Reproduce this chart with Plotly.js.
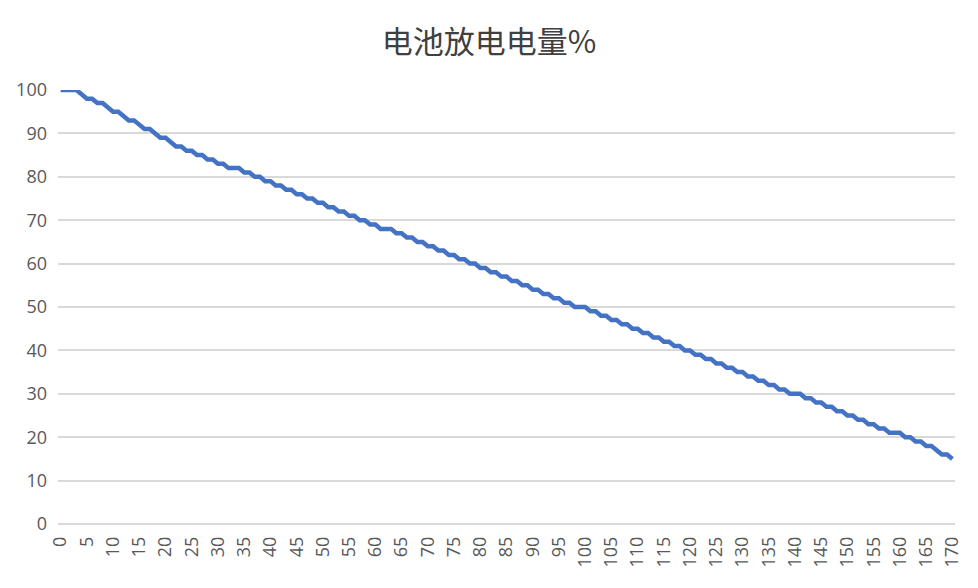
<!DOCTYPE html>
<html>
<head>
<meta charset="utf-8">
<script src="https://cdn.plot.ly/plotly-3.0.1.min.js"></script>
<style>
  html, body { margin: 0; padding: 0; background: #fff; }
  #plot { width: 978px; height: 588px; }
</style>
</head>
<body>
<div id="plot"></div>
<script>
const TITLE = '电池放电电量%';

// x: sample index 0..170, y: battery level
const SAMPLES = [
  0, 1, 2, 3, 4, 5, 6, 7, 8, 9,
  10, 11, 12, 13, 14, 15, 16, 17, 18, 19,
  20, 21, 22, 23, 24, 25, 26, 27, 28, 29,
  30, 31, 32, 33, 34, 35, 36, 37, 38, 39,
  40, 41, 42, 43, 44, 45, 46, 47, 48, 49,
  50, 51, 52, 53, 54, 55, 56, 57, 58, 59,
  60, 61, 62, 63, 64, 65, 66, 67, 68, 69,
  70, 71, 72, 73, 74, 75, 76, 77, 78, 79,
  80, 81, 82, 83, 84, 85, 86, 87, 88, 89,
  90, 91, 92, 93, 94, 95, 96, 97, 98, 99,
  100, 101, 102, 103, 104, 105, 106, 107, 108, 109,
  110, 111, 112, 113, 114, 115, 116, 117, 118, 119,
  120, 121, 122, 123, 124, 125, 126, 127, 128, 129,
  130, 131, 132, 133, 134, 135, 136, 137, 138, 139,
  140, 141, 142, 143, 144, 145, 146, 147, 148, 149,
  150, 151, 152, 153, 154, 155, 156, 157, 158, 159,
  160, 161, 162, 163, 164, 165, 166, 167, 168, 169,
  170
];
const LEVEL = [
  100, 100, 100, 100, 99, 98, 98, 97, 97, 96,
  95, 95, 94, 93, 93, 92, 91, 91, 90, 89,
  89, 88, 87, 87, 86, 86, 85, 85, 84, 84,
  83, 83, 82, 82, 82, 81, 81, 80, 80, 79,
  79, 78, 78, 77, 77, 76, 76, 75, 75, 74,
  74, 73, 73, 72, 72, 71, 71, 70, 70, 69,
  69, 68, 68, 68, 67, 67, 66, 66, 65, 65,
  64, 64, 63, 63, 62, 62, 61, 61, 60, 60,
  59, 59, 58, 58, 57, 57, 56, 56, 55, 55,
  54, 54, 53, 53, 52, 52, 51, 51, 50, 50,
  50, 49, 49, 48, 48, 47, 47, 46, 46, 45,
  45, 44, 44, 43, 43, 42, 42, 41, 41, 40,
  40, 39, 39, 38, 38, 37, 37, 36, 36, 35,
  35, 34, 34, 33, 33, 32, 32, 31, 31, 30,
  30, 30, 29, 29, 28, 28, 27, 27, 26, 26,
  25, 25, 24, 24, 23, 23, 22, 22, 21, 21,
  21, 20, 20, 19, 19, 18, 18, 17, 16, 16,
  15
];
const X_TICKS = [0, 5, 10, 15, 20, 25, 30, 35, 40, 45, 50, 55, 60, 65, 70, 75, 80, 85,
  90, 95, 100, 105, 110, 115, 120, 125, 130, 135, 140, 145, 150, 155, 160, 165, 170];
const Y_TICKS = [0, 10, 20, 30, 40, 50, 60, 70, 80, 90, 100];

const TEXT_COLOR = '#595959';
const GRID_COLOR = '#d9d9d9';
const TICK_FONT = {family: 'Open Sans, Noto Sans, sans-serif', size: 18, color: TEXT_COLOR};

const trace = {
  x: SAMPLES,
  y: LEVEL,
  type: 'scatter',
  mode: 'lines',
  line: {color: '#4472c4', width: 4.5},
  hoverinfo: 'x+y'
};

const layout = {
  width: 978,
  height: 588,
  margin: {l: 58, r: 23, t: 90, b: 64},
  paper_bgcolor: '#ffffff',
  plot_bgcolor: '#ffffff',
  showlegend: false,
  title: {
    text: TITLE,
    font: {family: 'Noto Sans CJK SC, sans-serif', size: 31, color: '#404040'},
    x: 0.5, xanchor: 'center',
    y: 1 - 42 / 588, yref: 'container', yanchor: 'middle'
  },
  xaxis: {
    range: [-0.5, 170.5],
    tickmode: 'array',
    tickvals: X_TICKS,
    ticktext: X_TICKS.map(String),
    tickangle: -90,
    tickfont: TICK_FONT,
    ticklabelstandoff: 8,
    showgrid: false,
    zeroline: false,
    showline: false,
    ticks: ''
  },
  yaxis: {
    range: [0, 100],
    tickmode: 'array',
    tickvals: Y_TICKS,
    tickfont: TICK_FONT,
    ticklabelstandoff: 10,
    showgrid: true,
    gridcolor: GRID_COLOR,
    gridwidth: 2,
    zeroline: true,
    zerolinecolor: GRID_COLOR,
    zerolinewidth: 2,
    showline: false,
    ticks: ''
  }
};

Plotly.newPlot('plot', [trace], layout, {displayModeBar: false, staticPlot: true});
</script>
</body>
</html>
